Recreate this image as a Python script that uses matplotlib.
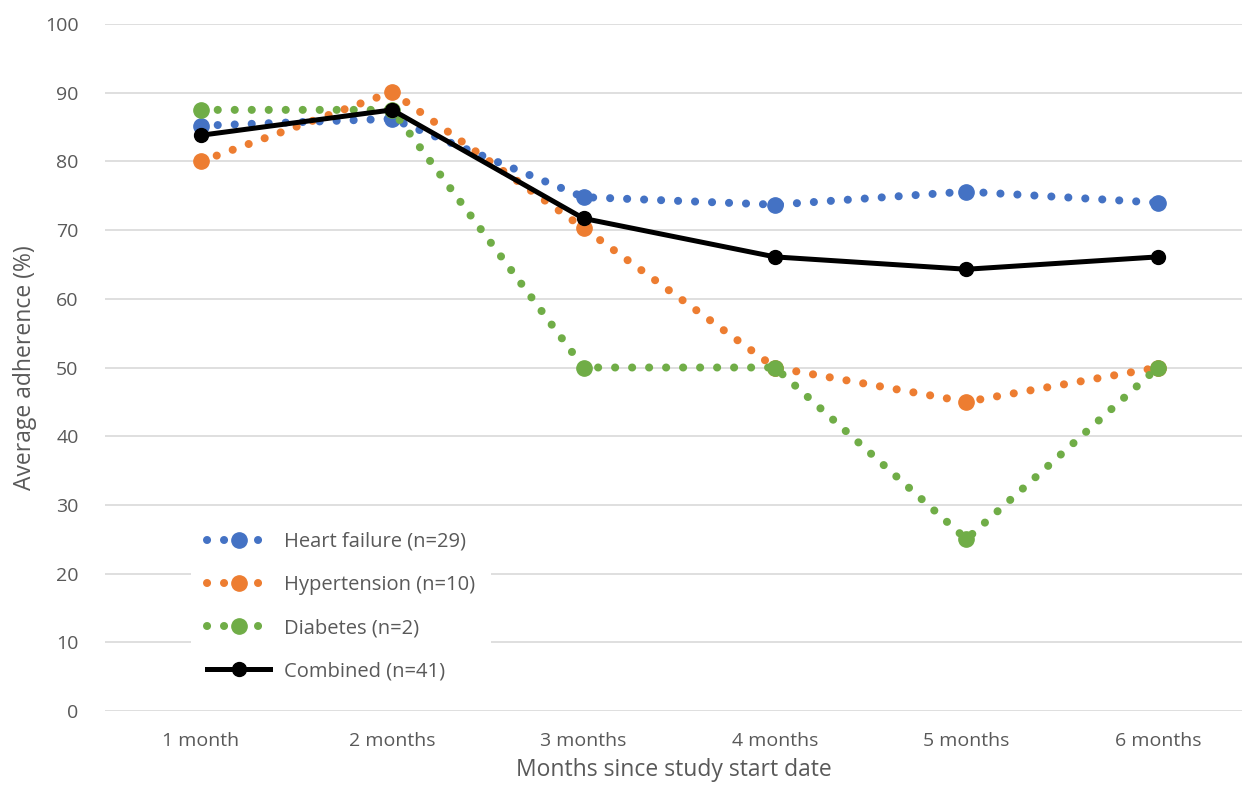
import matplotlib.pyplot as plt

months = ['1 month', '2 months', '3 months', '4 months', '5 months', '6 months']
heart_failure = [85.2, 86.2, 74.8, 73.7, 75.6, 74.0]
hypertension = [80.0, 90.1, 70.3, 50.0, 45.0, 50.0]
diabetes = [87.5, 87.5, 50.0, 50.0, 25.0, 50.0]
combined = [83.8, 87.5, 71.7, 66.1, 64.3, 66.1]

plt.rcParams['font.family'] = ['Open Sans', 'DejaVu Sans']

fig = plt.figure(figsize=(12.42, 7.91), dpi=100)
ax = fig.add_axes([105 / 1242, 80 / 791, 1137 / 1242, 687 / 791])

x = list(range(len(months)))
dots = (0, (0.01, 2.1))
series = [
    (heart_failure, '#4472C4', 'Heart failure (n=29)'),
    (hypertension, '#ED7D31', 'Hypertension (n=10)'),
    (diabetes, '#70AD47', 'Diabetes (n=2)'),
]
for values, color, label in series:
    ax.plot(x, values, color=color, linestyle=dots, linewidth=5.8,
            dash_capstyle='round', marker='o', markersize=11, label=label)
ax.plot(x, combined, color='black', linewidth=3.6, marker='o',
        markersize=10, label='Combined (n=41)')

ax.set_xlim(-0.5, 5.44)
ax.set_ylim(0, 100)
ax.set_yticks(range(0, 101, 10))
ax.set_xticks(x)
ax.set_xticklabels(months)
ax.grid(axis='y', color='#d9d9d9', linewidth=1.2)
ax.set_axisbelow(True)
for s in ax.spines.values():
    s.set_visible(False)
ax.tick_params(length=0, labelsize=14, colors='#595959')
ax.tick_params(axis='x', pad=15)
ax.tick_params(axis='y', pad=19)

ax.set_ylabel('Average adherence (%)', fontsize=16.5, color='#595959', labelpad=6)
ax.set_xlabel('Months since study start date', fontsize=16.5, color='#595959', labelpad=6)

leg = ax.legend(loc='lower left', bbox_to_anchor=(0.067, 0.005), frameon=True,
                fontsize=14.5, handlelength=3.1, labelspacing=1.15,
                borderpad=0.8, handletextpad=0.7)
leg.get_frame().set_facecolor('white')
leg.get_frame().set_edgecolor('none')
leg.get_frame().set_alpha(1)
for t in leg.get_texts():
    t.set_color('#595959')

fig.savefig('out.png', dpi=100)
